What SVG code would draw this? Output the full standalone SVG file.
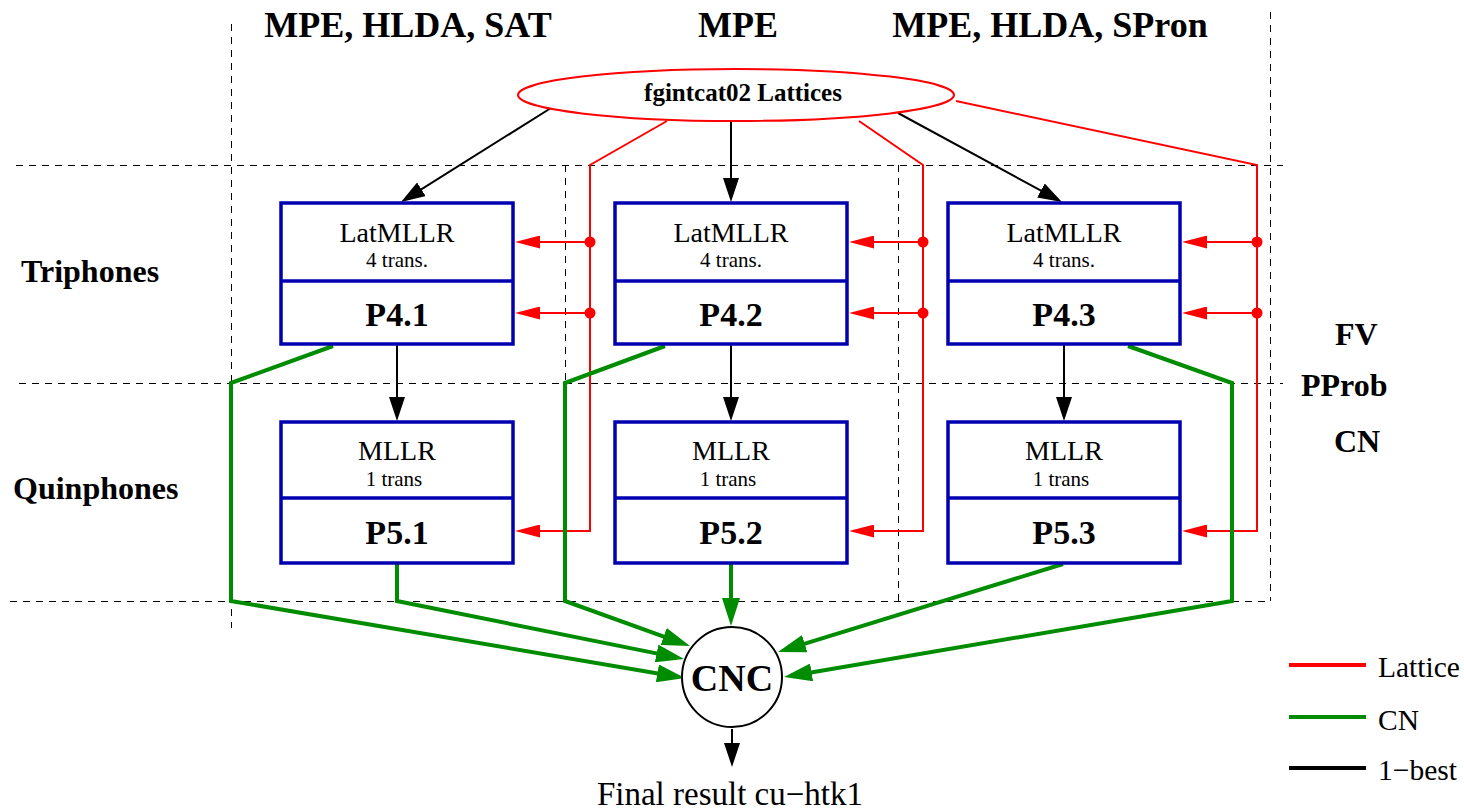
<svg xmlns="http://www.w3.org/2000/svg" width="1464" height="810" viewBox="0 0 1464 810">
<style>
text{font-family:"Liberation Serif","Times New Roman",serif;fill:#000}
.b{font-weight:bold}
.hdr{font-size:36px;font-weight:bold;text-anchor:middle}
.side{font-size:32px;font-weight:bold}
.t1{font-size:28px;text-anchor:middle}
.t2{font-size:21px;text-anchor:middle}
.pn{font-size:34px;font-weight:bold;text-anchor:middle}
.leg{font-size:29.5px}
.dash{stroke:#000;stroke-width:1;stroke-dasharray:7 6;fill:none}
.box{fill:#fff;stroke:#0000b0;stroke-width:3.5}
.red{stroke:#ff0000;stroke-width:2;fill:none}
.grn{stroke:#008c00;stroke-width:4;fill:none}
.blk{stroke:#000;stroke-width:2;fill:none}
.dot{fill:#ff0000}
</style>
<defs>
<marker id="ar" markerUnits="userSpaceOnUse" viewBox="0 0 25 13" refX="20" refY="6.5" markerWidth="25" markerHeight="13" orient="auto"><path d="M0,0 L25,6.5 L0,13 z" fill="#ff0000"/></marker>
<marker id="ag" markerUnits="userSpaceOnUse" viewBox="0 0 28 18" refX="20" refY="9" markerWidth="28" markerHeight="18" orient="auto"><path d="M0,0 L28,9 L0,18 z" fill="#008c00"/></marker>
<marker id="ab" markerUnits="userSpaceOnUse" viewBox="0 0 24 16" refX="18" refY="8" markerWidth="24" markerHeight="16" orient="auto"><path d="M0,0 L24,8 L0,16 z" fill="#000"/></marker>
</defs>

<g id="grid">
<line class="dash" x1="231.5" y1="24" x2="231.5" y2="628"/>
<line class="dash" x1="1270.5" y1="12" x2="1270.5" y2="601"/>
<line class="dash" x1="565.5" y1="165" x2="565.5" y2="601"/>
<line class="dash" x1="898.5" y1="165" x2="898.5" y2="601"/>
<line class="dash" x1="16" y1="165.5" x2="1283" y2="165.5"/>
<line class="dash" x1="19" y1="383.5" x2="1283" y2="383.5"/>
<line class="dash" x1="10" y1="601.5" x2="1270" y2="601.5"/>
</g>

<g id="labels">
<text class="hdr" x="408" y="37">MPE, HLDA, SAT</text>
<text class="hdr" x="738" y="37">MPE</text>
<text class="hdr" x="1050" y="37">MPE, HLDA, SPron</text>
<text class="side" x="21" y="282">Triphones</text>
<text class="side" x="13" y="499">Quinphones</text>
<text class="side" x="1335" y="345">FV</text>
<text class="side" x="1301" y="396">PProb</text>
<text class="side" x="1334" y="452">CN</text>
</g>

<g id="connectors">
<path class="red" d="M667,121 L590,165 L590,531 L520,531" marker-end="url(#ar)"/>
<path class="red" d="M590,242 L520,242" marker-end="url(#ar)"/>
<path class="red" d="M590,313 L520,313" marker-end="url(#ar)"/>
<path class="red" d="M859,121 L923,165 L923,531 L854,531" marker-end="url(#ar)"/>
<path class="red" d="M923,242 L854,242" marker-end="url(#ar)"/>
<path class="red" d="M923,313 L854,313" marker-end="url(#ar)"/>
<path class="red" d="M956,101 L1257,165 L1257,531 L1187,531" marker-end="url(#ar)"/>
<path class="red" d="M1257,242 L1187,242" marker-end="url(#ar)"/>
<path class="red" d="M1257,313 L1187,313" marker-end="url(#ar)"/>
<circle class="dot" cx="590" cy="242" r="5.5"/>
<circle class="dot" cx="590" cy="313" r="5.5"/>
<circle class="dot" cx="923" cy="242" r="5.5"/>
<circle class="dot" cx="923" cy="313" r="5.5"/>
<circle class="dot" cx="1257" cy="242" r="5.5"/>
<circle class="dot" cx="1257" cy="313" r="5.5"/>

<path class="blk" d="M551,108 L406.1,198.8" marker-end="url(#ab)"/>
<path class="blk" d="M731,121 L731,196" marker-end="url(#ab)"/>
<path class="blk" d="M898,113 L1056.7,199.1" marker-end="url(#ab)"/>
<path class="blk" d="M397,345 L397,415" marker-end="url(#ab)"/>
<path class="blk" d="M731,345 L731,415" marker-end="url(#ab)"/>
<path class="blk" d="M1064,345 L1064,415" marker-end="url(#ab)"/>
<path class="blk" d="M732,729 L732,761" marker-end="url(#ab)"/>

<path class="grn" d="M333,346 L231,383 L231,601 L677.1,676.7" marker-end="url(#ag)"/>
<path class="grn" d="M397,564 L397,601 L676.2,657.4" marker-end="url(#ag)"/>
<path class="grn" d="M665,346 L565,383 L565,601 L682.5,643.3" marker-end="url(#ag)"/>
<path class="grn" d="M731,564 L731,618" marker-end="url(#ag)"/>
<path class="grn" d="M1063,564 L785.6,649.6" marker-end="url(#ag)"/>
<path class="grn" d="M1128,346 L1232,383 L1232,601 L791.9,675.7" marker-end="url(#ag)"/>
</g>

<g id="lattices">
<ellipse cx="736" cy="95" rx="218" ry="26" fill="#fff" stroke="#ff0000" stroke-width="2"/>
<text class="b" x="743" y="101" font-size="25" text-anchor="middle">fgintcat02 Lattices</text>
</g>

<g id="P4.1">
<rect class="box" x="281" y="203" width="232" height="141"/>
<line x1="281" y1="281" x2="513" y2="281" stroke="#0000b0" stroke-width="3.5"/>
<text class="t1" x="397" y="242">LatMLLR</text>
<text class="t2" x="397" y="267">4 trans.</text>
<text class="pn" x="397" y="326">P4.1</text>
</g>
<g id="P4.2">
<rect class="box" x="615" y="203" width="232" height="141"/>
<line x1="615" y1="281" x2="847" y2="281" stroke="#0000b0" stroke-width="3.5"/>
<text class="t1" x="731" y="242">LatMLLR</text>
<text class="t2" x="731" y="267">4 trans.</text>
<text class="pn" x="731" y="326">P4.2</text>
</g>
<g id="P4.3">
<rect class="box" x="948" y="203" width="232" height="141"/>
<line x1="948" y1="281" x2="1180" y2="281" stroke="#0000b0" stroke-width="3.5"/>
<text class="t1" x="1064" y="242">LatMLLR</text>
<text class="t2" x="1064" y="267">4 trans.</text>
<text class="pn" x="1064" y="326">P4.3</text>
</g>
<g id="P5.1">
<rect class="box" x="281" y="422" width="232" height="141"/>
<line x1="281" y1="498" x2="513" y2="498" stroke="#0000b0" stroke-width="3.5"/>
<text class="t1" x="397" y="460">MLLR</text>
<text class="t2" x="394" y="486">1 trans</text>
<text class="pn" x="397" y="544">P5.1</text>
</g>
<g id="P5.2">
<rect class="box" x="615" y="422" width="232" height="141"/>
<line x1="615" y1="498" x2="847" y2="498" stroke="#0000b0" stroke-width="3.5"/>
<text class="t1" x="731" y="460">MLLR</text>
<text class="t2" x="728" y="486">1 trans</text>
<text class="pn" x="731" y="544">P5.2</text>
</g>
<g id="P5.3">
<rect class="box" x="948" y="422" width="232" height="141"/>
<line x1="948" y1="498" x2="1180" y2="498" stroke="#0000b0" stroke-width="3.5"/>
<text class="t1" x="1064" y="460">MLLR</text>
<text class="t2" x="1061" y="486">1 trans</text>
<text class="pn" x="1064" y="544">P5.3</text>
</g>

<g id="CNC">
<circle cx="732" cy="677" r="50" fill="#fff" stroke="#000" stroke-width="2"/>
<text class="b" x="732" y="691" font-size="38" text-anchor="middle">CNC</text>
</g>

<g id="final">
<text x="730" y="805" font-size="33" text-anchor="middle">Final result cu−htk1</text>
</g>

<g id="legend">
<line x1="1289" y1="665" x2="1366" y2="665" stroke="#ff0000" stroke-width="4"/>
<line x1="1289" y1="717" x2="1366" y2="717" stroke="#008c00" stroke-width="4"/>
<line x1="1289" y1="768" x2="1366" y2="768" stroke="#000" stroke-width="4"/>
<text class="leg" x="1378" y="677">Lattice</text>
<text class="leg" x="1378" y="730">CN</text>
<text class="leg" x="1378" y="780">1−best</text>
</g>
</svg>
